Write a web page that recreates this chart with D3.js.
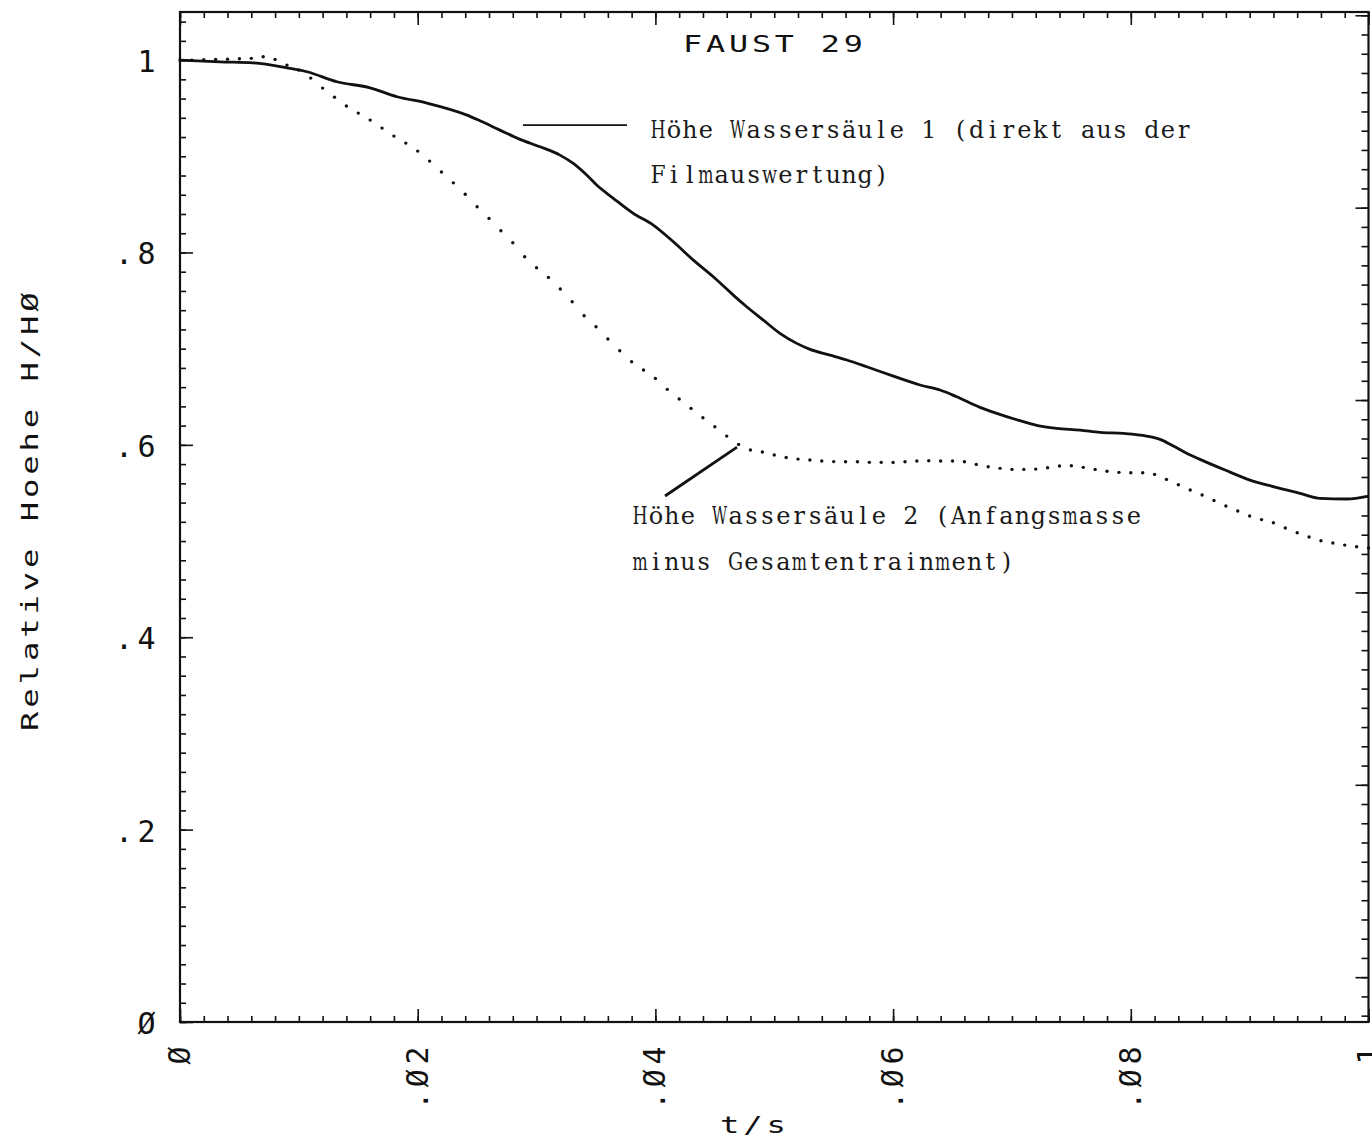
<!DOCTYPE html>
<html>
<head>
<meta charset="utf-8">
<script src="https://cdn.jsdelivr.net/npm/d3@7"></script>
<style>
  html, body { margin: 0; padding: 0; background: #fff; }
  svg { display: block; background: #fff; }
</style>
</head>
<body>
<svg id="chart" width="1372" height="1144"></svg>
<script>
// Water column 1: height read directly from the film evaluation (solid line)
const solidTime = [0, 0.00337, 0.00614, 0.00900, 0.01069, 0.01321, 0.01599, 0.01826, 0.02078, 0.02415,
  0.02524, 0.02692, 0.02861, 0.03029, 0.03197, 0.03309, 0.03422, 0.03506, 0.03646, 0.03814,
  0.03982, 0.04151, 0.04319, 0.04487, 0.04655, 0.04768, 0.04908, 0.05048, 0.05189, 0.05301,
  0.05469, 0.05610, 0.05778, 0.06002, 0.06226, 0.06395, 0.06535, 0.06731, 0.06872, 0.07068,
  0.07208, 0.07376, 0.07573, 0.07741, 0.07937, 0.08134, 0.08246, 0.08358, 0.08470, 0.08582,
  0.08793, 0.09003, 0.09213, 0.09424, 0.09592, 0.09817, 0.1];
const solidHeight = [1.0000, 0.9982, 0.9972, 0.9920, 0.9879, 0.9775, 0.9712, 0.9619, 0.9553, 0.9428,
  0.9369, 0.9272, 0.9176, 0.9099, 0.9012, 0.8926, 0.8805, 0.8701, 0.8563, 0.8406,
  0.8285, 0.8111, 0.7921, 0.7748, 0.7557, 0.7436, 0.7297, 0.7159, 0.7055, 0.6993,
  0.6933, 0.6882, 0.6812, 0.6715, 0.6622, 0.6570, 0.6500, 0.6390, 0.6328, 0.6251,
  0.6203, 0.6172, 0.6154, 0.6130, 0.6119, 0.6091, 0.6057, 0.5988, 0.5912, 0.5849,
  0.5738, 0.5634, 0.5561, 0.5496, 0.5444, 0.5437, 0.5468];

// Water column 2: initial mass minus total entrainment, one sample per millisecond (dotted)
const dottedTimeMs = [0, 1, 2, 3, 4, 5, 6, 7, 8, 9, 10, 11, 12, 13, 14, 15, 16, 17, 18, 19,
  20, 21, 22, 23, 24, 25, 26, 27, 28, 29, 30, 31, 32, 33, 34, 35, 36, 37, 38, 39,
  40, 41, 42, 43, 44, 45, 46, 47, 48, 49, 50, 51, 52, 53, 54, 55, 56, 57, 58, 59,
  60, 61, 62, 63, 64, 65, 66, 67, 68, 69, 70, 71, 72, 73, 74, 75, 76, 77, 78, 79,
  80, 81, 82, 83, 84, 85, 86, 87, 88, 89, 90, 91, 92, 93, 94, 95, 96, 97, 98, 99, 100];
const dottedHeight = [1.0000, 1.0000, 1.0003, 1.0007, 1.0010, 1.0014, 1.0018, 1.0034, 1.0007, 0.9948,
  0.9896, 0.9813, 0.9709, 0.9615, 0.9522, 0.9449, 0.9376, 0.9293, 0.9210, 0.9137,
  0.9054, 0.8950, 0.8836, 0.8724, 0.8605, 0.8475, 0.8354, 0.8226, 0.8101, 0.7955,
  0.7841, 0.7741, 0.7620, 0.7488, 0.7342, 0.7228, 0.7100, 0.6978, 0.6864, 0.6778,
  0.6691, 0.6577, 0.6476, 0.6379, 0.6282, 0.6188, 0.6091, 0.6005, 0.5946, 0.5925,
  0.5894, 0.5868, 0.5852, 0.5842, 0.5832, 0.5826, 0.5824, 0.5824, 0.5818, 0.5818,
  0.5816, 0.5824, 0.5832, 0.5835, 0.5832, 0.5832, 0.5824, 0.5797, 0.5773, 0.5756,
  0.5745, 0.5745, 0.5748, 0.5762, 0.5780, 0.5783, 0.5766, 0.5745, 0.5726, 0.5714,
  0.5710, 0.5710, 0.5693, 0.5641, 0.5585, 0.5530, 0.5478, 0.5421, 0.5364, 0.5312,
  0.5260, 0.5223, 0.5190, 0.5135, 0.5086, 0.5042, 0.5003, 0.4979, 0.4958, 0.4941, 0.4927];

const xTickValues = [0, 0.02, 0.04, 0.06, 0.08, 0.1];
const xTickLabels = ["Ø", ".Ø2", ".Ø4", ".Ø6", ".Ø8", ".1"];
const yTickValues = [0, 0.2, 0.4, 0.6, 0.8, 1];
const yTickLabels = ["Ø", ".2", ".4", ".6", ".8", "1"];

const titleText = "FAUST 29";
const xTitle = "t/s";
const yTitle = "Relative Hoehe H/HØ";
const note1 = ["Höhe Wassersäule 1 (direkt aus der", "Filmauswertung)"];
const note2 = ["Höhe Wassersäule 2 (Anfangsmasse", "minus Gesamtentrainment)"];

// ---- layout ----
const plot = { left: 180, right: 1368.5, top: 12, bottom: 1022 };
const x = d3.scaleLinear().domain([0, 0.1]).range([plot.left, plot.right]);
const y = d3.scaleLinear().domain([0, 1.05]).range([plot.bottom, plot.top]);

const plotterFont = "'DejaVu Sans Mono', monospace";
const typeFont = "'DejaVu Serif', 'Liberation Serif', serif";

const svg = d3.select("#chart");
svg.append("rect").attr("width", 1372).attr("height", 1144).attr("fill", "#fff");

// ---- tick marks (pointing into the plot) ----
const xMinor = d3.range(0, 0.1 + 1e-9, 0.002);
const yMinor = d3.range(0, 1.05 + 1e-9, 0.02);
const rightOffset = 0.0066;
const yMinorRight = d3.range(rightOffset, 1.05, 0.02);
const yMajorRight = d3.range(rightOffset + 0.04, 1.05, 0.2);

function drawAxis(axis, tx, ty) {
  const g = svg.append("g").attr("transform", `translate(${tx},${ty})`).call(axis);
  g.select(".domain").remove();
  g.selectAll(".tick line").attr("stroke", "#111").attr("stroke-width", 1.6);
  g.selectAll(".tick text").remove();
  return g;
}
drawAxis(d3.axisBottom(x).tickValues(xMinor).tickSize(-6).tickFormat(""), 0, plot.bottom);
drawAxis(d3.axisBottom(x).tickValues(xTickValues).tickSize(-13).tickFormat(""), 0, plot.bottom);
drawAxis(d3.axisTop(x).tickValues(xMinor).tickSize(-6).tickFormat(""), 0, plot.top);
drawAxis(d3.axisTop(x).tickValues(xTickValues).tickSize(-13).tickFormat(""), 0, plot.top);
drawAxis(d3.axisLeft(y).tickValues(yMinor).tickSize(-6).tickFormat(""), plot.left, 0);
drawAxis(d3.axisLeft(y).tickValues(yTickValues).tickSize(-13).tickFormat(""), plot.left, 0);
drawAxis(d3.axisRight(y).tickValues(yMinorRight).tickSize(-7).tickFormat(""), plot.right, 0);
drawAxis(d3.axisRight(y).tickValues(yMajorRight).tickSize(-13).tickFormat(""), plot.right, 0);

// ---- frame ----
svg.append("rect")
  .attr("x", plot.left).attr("y", plot.top)
  .attr("width", plot.right - plot.left).attr("height", plot.bottom - plot.top)
  .attr("fill", "none").attr("stroke", "#111").attr("stroke-width", 2.2);

// ---- tick labels ----
svg.append("g").selectAll("text")
  .data(d3.zip(xTickValues, xTickLabels))
  .join("text")
  .attr("transform", d => `translate(${x(d[0]) + 10},${1042}) rotate(-90)`)
  .attr("text-anchor", "end")
  .attr("font-family", plotterFont).attr("font-size", 30)
  .attr("letter-spacing", 4.5)
  .attr("fill", "#111")
  .text(d => d[1]);

svg.append("g").selectAll("text")
  .data(d3.zip(yTickValues, yTickLabels))
  .join("text")
  .attr("x", 160).attr("y", d => y(d[0]) + 12)
  .attr("text-anchor", "end")
  .attr("font-family", plotterFont).attr("font-size", 30)
  .attr("letter-spacing", 4.5)
  .attr("fill", "#111")
  .text(d => d[1]);

// ---- titles ----
svg.append("text")
  .attr("transform", "translate(683,52) scale(1.38,1)")
  .attr("font-family", plotterFont).attr("font-size", 23)
  .attr("letter-spacing", 2.8).attr("fill", "#111")
  .text(titleText);

svg.append("text")
  .attr("transform", "translate(38,731) rotate(-90) scale(1.4,1)")
  .attr("font-family", plotterFont).attr("font-size", 23)
  .attr("letter-spacing", 2.8).attr("fill", "#111")
  .text(yTitle);

svg.append("text")
  .attr("transform", "translate(720,1133) scale(1.4,1)")
  .attr("font-family", plotterFont).attr("font-size", 23)
  .attr("letter-spacing", 2.8).attr("fill", "#111")
  .text(xTitle);

// ---- data ----
const solid = d3.zip(solidTime, solidHeight);
const line = d3.line().x(d => x(d[0])).y(d => y(d[1])).curve(d3.curveMonotoneX);
svg.append("path")
  .attr("d", line(solid))
  .attr("fill", "none").attr("stroke", "#111")
  .attr("stroke-width", 2.8).attr("stroke-linejoin", "round");

const dotted = d3.zip(dottedTimeMs, dottedHeight);
svg.append("g").selectAll("circle")
  .data(dotted)
  .join("circle")
  .attr("cx", d => x(d[0] / 1000))
  .attr("cy", d => y(d[1]))
  .attr("r", 1.7)
  .attr("fill", "#111");

// ---- annotations ----
svg.append("line")
  .attr("x1", x(0.02886)).attr("x2", x(0.03761))
  .attr("y1", y(0.9324)).attr("y2", y(0.9324))
  .attr("stroke", "#111").attr("stroke-width", 1.8);

svg.append("line")
  .attr("x1", x(0.04687)).attr("y1", y(0.5977))
  .attr("x2", x(0.04081)).attr("y2", y(0.5468))
  .attr("stroke", "#111").attr("stroke-width", 2.8);

// Typewriter-style lines: every character sits in a fixed-width cell,
// over-wide glyphs are squeezed into their cell.
const cell = 15.93;
function typeLine(str, x0, yb) {
  const t = svg.append("text")
    .attr("y", yb)
    .attr("font-family", typeFont).attr("font-size", 24)
    .attr("fill", "#1a1a1a")
    .style("white-space", "pre");
  Array.from(str).forEach((ch, i) => {
    const s = t.append("tspan")
      .attr("x", x0 + (i + 0.5) * cell)
      .attr("text-anchor", "middle")
      .text(ch);
    const w = s.node().getComputedTextLength();
    if (ch !== " " && w > cell * 0.95) {
      s.attr("textLength", cell * 0.95).attr("lengthAdjust", "spacingAndGlyphs");
    }
  });
}
function note(lines, t, v0, v1) {
  typeLine(lines[0], x(t), y(v0));
  typeLine(lines[1], x(t), y(v1));
}
note(note1, 0.03955, 0.9189, 0.8721);
note(note2, 0.03803, 0.5177, 0.4699);
</script>
</body>
</html>
